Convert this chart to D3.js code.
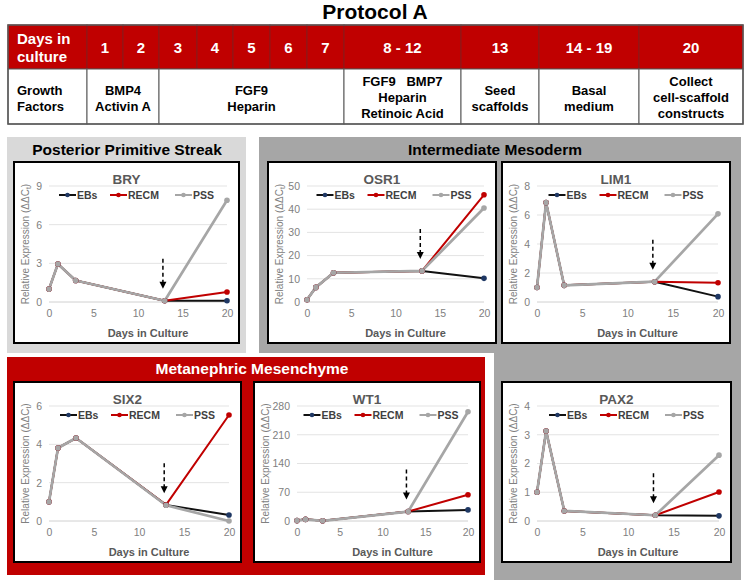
<!DOCTYPE html>
<html><head><meta charset="utf-8">
<script src="https://cdn.jsdelivr.net/npm/d3@7"></script>
<style>
body{margin:0;background:#fff}
svg{display:block}
text{font-family:"Liberation Sans",Arial,Helvetica,sans-serif}
</style>
</head><body>
<svg id="c" width="750" height="580"></svg>
<script>
// ---------- DATA ----------
const days = [0, 1, 3, 13, 20];
const seriesNames = ["EBs", "RECM", "PSS"];
const xTicks = [0, 5, 10, 15, 20];

const genes = ["BRY", "OSR1", "LIM1", "SIX2", "WT1", "PAX2"];
const yMaxes = [9, 50, 8, 6, 280, 4];
const ySteps = [3, 10, 2, 2, 70, 1];

const bryEBs  = [1.0, 2.95, 1.67, 0.1, 0.1];
const bryRECM = [1.0, 2.95, 1.67, 0.1, 0.78];
const bryPSS  = [1.0, 2.95, 1.67, 0.1, 7.9];

const osr1EBs  = [1.0, 6.3, 12.6, 13.4, 10.2];
const osr1RECM = [1.0, 6.3, 12.6, 13.4, 46.2];
const osr1PSS  = [1.0, 6.3, 12.6, 13.4, 40.5];

const lim1EBs  = [1.0, 6.86, 1.15, 1.4, 0.37];
const lim1RECM = [1.0, 6.86, 1.15, 1.4, 1.33];
const lim1PSS  = [1.0, 6.86, 1.15, 1.4, 6.08];

const six2EBs  = [1.0, 3.81, 4.33, 0.84, 0.31];
const six2RECM = [1.0, 3.81, 4.33, 0.84, 5.53];
const six2PSS  = [1.0, 3.81, 4.33, 0.82, 0.0];

const wt1EBs  = [1.0, 4.0, 0.5, 23, 27];
const wt1RECM = [1.0, 4.0, 0.5, 23, 64];
const wt1PSS  = [1.0, 4.0, 0.5, 23, 266];

const pax2EBs  = [1.0, 3.13, 0.35, 0.2, 0.18];
const pax2RECM = [1.0, 3.13, 0.35, 0.2, 1.01];
const pax2PSS  = [1.0, 3.13, 0.35, 0.2, 2.29];

const headerLabels = ["Days in|culture", "1", "2", "3", "4", "5", "6", "7", "8 - 12", "13", "14 - 19", "20"];
const treatmentLabels = ["Growth|Factors", "BMP4|Activin A", "FGF9|Heparin", "FGF9   BMP7|Heparin|Retinoic Acid", "Seed|scaffolds", "Basal|medium", "Collect|cell-scaffold|constructs"];
const treatmentSpans = [[0, 1], [1, 3], [3, 8], [8, 9], [9, 10], [10, 11], [11, 12]];

const panelTitles = ["Posterior Primitive Streak", "Intermediate Mesoderm", "Metanephric Mesenchyme"];

// ---------- STYLE / LAYOUT ----------
const RED = "#c00000";
const seriesLine = ["#111111", RED, "#a6a6a6"];
const seriesDot = ["#1f3864", RED, "#a6a6a6"];
const colX = [8, 87, 123, 159, 197, 233, 270, 307, 344, 461, 539, 639, 743];
const headTop = 25, headBot = 69, bodyBot = 124;

const svg = d3.select("#c");

// Title
svg.append("text").attr("x", 375).attr("y", 19).attr("text-anchor", "middle")
  .attr("font-size", 21).attr("font-weight", "bold").attr("fill", "#000").text("Protocol A");

// Table header
headerLabels.forEach((lab, i) => {
  const x0 = colX[i], x1 = colX[i + 1];
  svg.append("rect").attr("x", x0).attr("y", headTop).attr("width", x1 - x0).attr("height", headBot - headTop)
    .attr("fill", RED).attr("stroke", "#8a1a1a").attr("stroke-width", 1);
  const lines = lab.split("|");
  if (lines.length > 1) {
    lines.forEach((l, k) => svg.append("text").attr("x", x0 + 9).attr("y", 44 + k * 18)
      .attr("font-size", 15).attr("font-weight", "bold").attr("fill", "#fff").text(l));
  } else {
    svg.append("text").attr("x", (x0 + x1) / 2).attr("y", 53).attr("text-anchor", "middle")
      .attr("font-size", 15).attr("font-weight", "bold").attr("fill", "#fff").text(lab);
  }
});
// Table body
treatmentLabels.forEach((lab, i) => {
  const x0 = colX[treatmentSpans[i][0]], x1 = colX[treatmentSpans[i][1]];
  svg.append("rect").attr("x", x0).attr("y", headBot).attr("width", x1 - x0).attr("height", bodyBot - headBot)
    .attr("fill", "#fff").attr("stroke", "#595959").attr("stroke-width", 1);
  const lines = lab.split("|");
  const base = lines.length === 3 ? 86 : 95;
  lines.forEach((l, k) => {
    const t = svg.append("text").attr("y", base + k * 16).attr("font-size", 13)
      .attr("font-weight", "bold").attr("fill", "#000").style("white-space", "pre").text(l);
    if (i === 0) t.attr("x", x0 + 9); else t.attr("x", (x0 + x1) / 2).attr("text-anchor", "middle");
  });
});
svg.append("rect").attr("x", colX[0]).attr("y", headTop).attr("width", colX[12] - colX[0]).attr("height", bodyBot - headTop)
  .attr("fill", "none").attr("stroke", "#595959").attr("stroke-width", 1.5);

// Panels
svg.append("rect").attr("x", 7).attr("y", 137).attr("width", 239).attr("height", 216).attr("fill", "#d9d9d9");
svg.append("path").attr("d", "M259,137 H741 V580 H494 V353 H259 Z").attr("fill", "#a6a6a6");
svg.append("rect").attr("x", 7).attr("y", 357).attr("width", 478).attr("height", 218).attr("fill", RED);

svg.append("text").attr("x", 127).attr("y", 155).attr("text-anchor", "middle").attr("font-size", 15.5)
  .attr("font-weight", "bold").attr("fill", "#000").text(panelTitles[0]);
svg.append("text").attr("x", 495).attr("y", 155).attr("text-anchor", "middle").attr("font-size", 15.5)
  .attr("font-weight", "bold").attr("fill", "#000").text(panelTitles[1]);
svg.append("text").attr("x", 252).attr("y", 374).attr("text-anchor", "middle").attr("font-size", 15.5)
  .attr("font-weight", "bold").attr("fill", "#fff").text(panelTitles[2]);

// Charts
const boxes = [
  {x: 14, y: 162, w: 225, h: 181},
  {x: 268, y: 162, w: 228, h: 181},
  {x: 502, y: 162, w: 228, h: 181},
  {x: 14, y: 382, w: 227, h: 180},
  {x: 254, y: 382, w: 226, h: 180},
  {x: 502, y: 382, w: 229, h: 180}
];
const allData = [
  [bryEBs, bryRECM, bryPSS],
  [osr1EBs, osr1RECM, osr1PSS],
  [lim1EBs, lim1RECM, lim1PSS],
  [six2EBs, six2RECM, six2PSS],
  [wt1EBs, wt1RECM, wt1PSS],
  [pax2EBs, pax2RECM, pax2PSS]
];

function drawChart(box, name, yMax, yStep, data) {
  const g = svg.append("g");
  g.append("rect").attr("x", box.x).attr("y", box.y).attr("width", box.w).attr("height", box.h)
    .attr("fill", "#fff").attr("stroke", "#000").attr("stroke-width", 2);
  const digits = String(yMax).length;
  const left = box.x + 31 + 4 * digits, right = box.x + box.w - 12;
  const top = box.y + 24, bottom = box.y + box.h - 41;
  const x = d3.scaleLinear().domain([0, 20]).range([left, right]);
  const y = d3.scaleLinear().domain([0, yMax]).range([bottom, top]);
  const yTicks = d3.range(0, yMax + yStep / 2, yStep);

  g.selectAll("line.grid").data(yTicks.slice(1)).join("line").attr("class", "grid")
    .attr("x1", left).attr("x2", right).attr("y1", d => y(d)).attr("y2", d => y(d))
    .attr("stroke", "#e3e3e3").attr("stroke-width", 1);
  g.append("line").attr("x1", left).attr("x2", right).attr("y1", y(0)).attr("y2", y(0))
    .attr("stroke", "#d0d0d0").attr("stroke-width", 1);

  const ya = g.append("g").attr("transform", `translate(${left},0)`)
    .call(d3.axisLeft(y).tickValues(yTicks).tickFormat(d3.format("d")).tickSize(0).tickPadding(7));
  ya.select(".domain").remove();
  ya.selectAll("text").attr("fill", "#808080").attr("font-size", 10.5)
    .attr("font-family", '"Liberation Sans",Arial,sans-serif');
  const xa = g.append("g").attr("transform", `translate(0,${bottom})`)
    .call(d3.axisBottom(x).tickValues(xTicks).tickFormat(d3.format("d")).tickSize(0).tickPadding(8));
  xa.select(".domain").remove();
  xa.selectAll("text").attr("fill", "#808080").attr("font-size", 10.5)
    .attr("font-family", '"Liberation Sans",Arial,sans-serif');

  // titles
  g.append("text").attr("x", box.x + box.w / 2).attr("y", box.y + 22).attr("text-anchor", "middle")
    .attr("font-size", 13.5).attr("font-weight", "bold").attr("fill", "#595959").text(name);
  g.append("text").attr("x", (left + right) / 2 + 10).attr("y", box.y + box.h - 6).attr("text-anchor", "middle")
    .attr("font-size", 11).attr("font-weight", "bold").attr("fill", "#595959").text("Days in Culture");
  const yt = g.append("text").attr("transform", `translate(${box.x + 15},${(top + bottom) / 2}) rotate(-90)`)
    .attr("text-anchor", "middle").attr("font-size", 10).attr("fill", "#808080");
  yt.append("tspan").text("Relative Expression (\u0394\u0394C");
  yt.append("tspan").attr("font-size", 7).attr("dy", 2).text("t");
  yt.append("tspan").attr("dy", -2).text(")");

  // series
  const line = d3.line().x((d, i) => x(days[i])).y(d => y(d));
  data.forEach((vals, s) => {
    g.append("path").attr("d", line(vals)).attr("fill", "none")
      .attr("stroke", seriesLine[s]).attr("stroke-width", s === 2 ? 2.7 : 2).attr("stroke-linejoin", "round");
  });
  data.forEach((vals, s) => {
    g.selectAll(null).data(vals).join("circle")
      .attr("cx", (d, i) => x(days[i])).attr("cy", d => y(d)).attr("r", 2.8)
      .attr("fill", seriesDot[s]);
  });

  // legend
  const lc = (left + right) / 2, ly = box.y + 33;
  const offs = [-79, -28, 37];
  seriesNames.forEach((n, s) => {
    const ox = lc + offs[s];
    g.append("line").attr("x1", ox).attr("x2", ox + 17).attr("y1", ly).attr("y2", ly)
      .attr("stroke", seriesLine[s]).attr("stroke-width", 2);
    g.append("circle").attr("cx", ox + 8.5).attr("cy", ly).attr("r", 2.3).attr("fill", seriesDot[s]);
    g.append("text").attr("x", ox + 18).attr("y", ly + 4).attr("font-size", 10.5)
      .attr("font-weight", "bold").attr("fill", "#404040").text(n);
  });

  // dashed arrow indicating seeding (day 13)
  const ax = x(12.8), tip = y(data[2][3]) - 12, atop = tip - 30;
  g.append("line").attr("x1", ax).attr("x2", ax).attr("y1", atop).attr("y2", tip - 6)
    .attr("stroke", "#000").attr("stroke-width", 1.5).attr("stroke-dasharray", "4,3");
  g.append("path").attr("d", `M${ax - 3.5},${tip - 7} L${ax + 3.5},${tip - 7} L${ax},${tip} Z`).attr("fill", "#000");
}

genes.forEach((gname, i) => drawChart(boxes[i], gname, yMaxes[i], ySteps[i], allData[i]));
</script>
</body></html>
